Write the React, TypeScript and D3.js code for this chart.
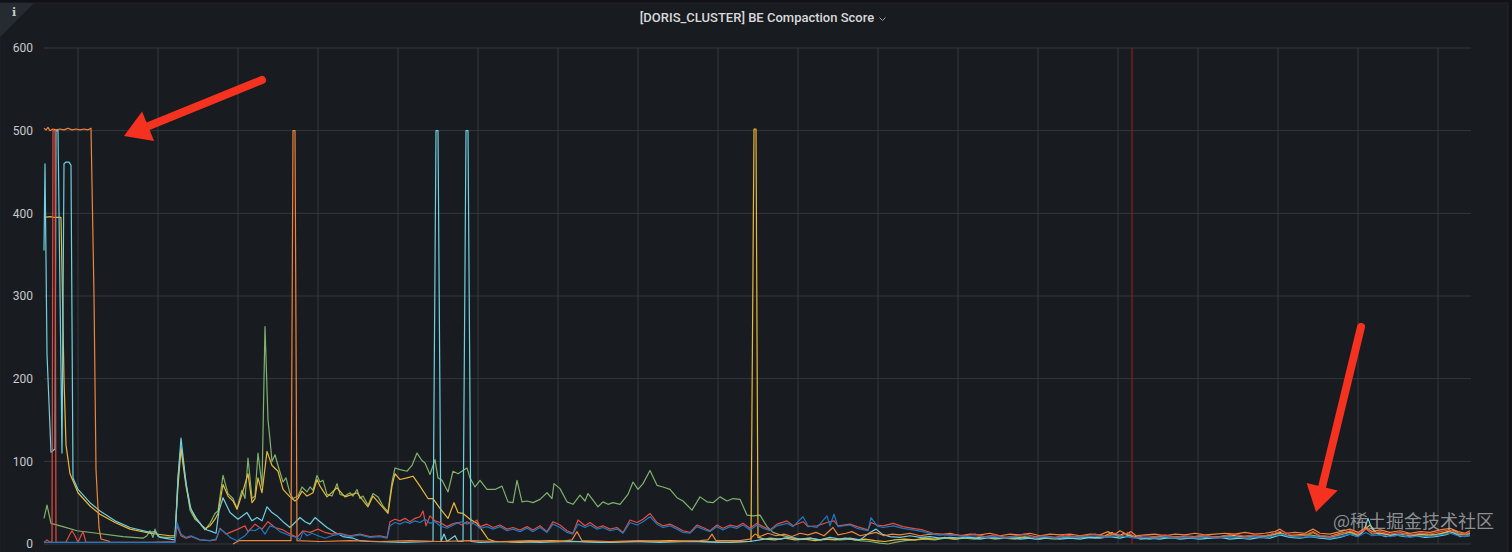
import React from "react";
import * as d3 from "d3";

const W = 1512;
const H = 552;

const TITLE = "[DORIS_CLUSTER] BE Compaction Score";
const WATERMARK = "@稀土掘金技术社区";
const Y_TICKS = [0, 100, 200, 300, 400, 500, 600];

// time axis: samples every 45 s starting at 07:34:30
const START = new Date(2022, 5, 14, 7, 34, 30).getTime();
const STEP_MS = 45000;
const SAMPLE_COUNT = 1427;
const ANNOTATION_SAMPLE = 1088;

const SERIES_NAMES = ["be-01", "be-02", "be-03", "be-04", "be-05", "be-06"];
const SERIES_COLORS = ["#7eb26d", "#eab839", "#6ed0e0", "#ef843c", "#e24d42", "#1f78c1"];

// [sample index, compaction score]
const greenSeries: [number, number | null][] = [
  [0,31],[3,47],[7,25],[19,21],[33,16],[53,13],[79,9],[99,7],[103,10],[106,16],[109,8],[111,18],[114,9],[121,8],[131,8],[134,80],[137,118],[142,75],[146,41],[151,30],[156,25],[161,17],[166,25],[171,37],[174,40],[179,83],[184,61],[189,55],[193,43],[198,65],[201,55],[204,104],[208,55],[211,58],[214,110],[218,70],[221,263],[224,150],[226,126],[228,100],[231,108],[234,95],[239,75],[242,80],[246,61],[249,55],[254,58],[258,69],[263,63],[266,69],[269,65],[273,83],[276,75],[279,77],[283,60],[288,58],[293,73],[296,60],[301,58],[306,62],[309,58],[313,66],[316,55],[319,58],[324,47],[329,61],[334,57],[339,46],[344,39],[348,75],[351,92],[356,90],[363,88],[368,95],[373,110],[378,101],[381,98],[386,84],[391,102],[394,80],[398,77],[404,63],[409,88],[414,85],[419,89],[423,92],[426,80],[431,69],[436,77],[443,66],[451,66],[458,70],[464,51],[469,50],[473,77],[478,51],[483,52],[489,50],[496,54],[503,62],[508,55],[510,73],[516,67],[523,51],[529,48],[536,59],[541,52],[544,61],[549,53],[554,45],[559,51],[564,48],[569,50],[576,48],[584,60],[589,75],[594,66],[599,73],[606,89],[613,71],[619,69],[626,66],[633,56],[639,52],[648,41],[656,57],[663,51],[669,50],[676,57],[683,52],[689,55],[696,54],[703,35],[709,34],[716,35],[723,21],[729,14],[736,11],[746,8],[756,6],[766,7],[776,5],[786,6],[796,5],[806,6],[816,4],[826,3],[836,1],[844,0],[851,2],[861,4],[871,5],[881,6],[891,5],[901,7],[911,6],[921,7],[931,6],[941,8],[951,6],[961,7],[971,6],[981,8],[991,6],[1001,7],[1011,6],[1021,8],[1031,7],[1041,8],[1051,7],[1061,9],[1071,12],[1078,8],[1086,11],[1096,7],[1106,6],[1116,8],[1126,7],[1136,8],[1146,7],[1156,9],[1166,7],[1176,8],[1186,9],[1196,8],[1206,9],[1216,8],[1226,10],[1236,13],[1246,9],[1256,10],[1266,11],[1276,9],[1286,8],[1296,11],[1306,14],[1314,10],[1322,19],[1328,12],[1336,13],[1346,11],[1356,12],[1366,10],[1376,11],[1386,10],[1396,12],[1406,15],[1416,11],[1426,12]
];

const yellowSeries: [number, number | null][] = [
  [0,395],[6,396],[11,395],[17,395],[20,200],[22,120],[26,85],[34,62],[46,46],[56,36],[71,26],[86,18],[106,13],[126,10],[131,10],[134,70],[137,115],[142,70],[146,45],[151,32],[156,25],[161,18],[166,22],[171,30],[174,37],[179,72],[184,58],[189,52],[193,42],[198,60],[204,85],[208,50],[211,55],[214,80],[218,62],[223,112],[228,95],[234,88],[239,66],[246,57],[251,52],[254,55],[258,64],[263,58],[269,62],[273,78],[276,70],[283,57],[293,68],[301,57],[313,62],[324,45],[329,58],[339,44],[344,37],[348,70],[351,85],[356,78],[363,80],[369,82],[376,70],[384,55],[389,55],[396,43],[404,31],[410,50],[414,38],[419,37],[426,30],[433,25],[439,15],[444,6],[451,3],[476,2],[506,4],[536,3],[566,2],[596,3],[626,4],[656,3],[686,2],[704,3],[707,3],[710,502],[712,502],[714,8],[721,6],[731,5],[741,7],[751,5],[761,6],[771,4],[781,6],[791,5],[801,7],[811,5],[821,6],[831,4],[841,3],[851,5],[861,6],[871,5],[881,7],[891,6],[901,8],[911,6],[921,8],[931,7],[941,9],[951,7],[961,8],[971,7],[981,9],[991,7],[1001,8],[1011,7],[1021,9],[1031,8],[1041,9],[1051,8],[1061,10],[1068,14],[1074,9],[1080,13],[1086,10],[1096,8],[1106,7],[1116,9],[1126,8],[1136,9],[1146,8],[1156,10],[1166,8],[1176,9],[1186,11],[1196,9],[1206,10],[1216,9],[1226,11],[1236,14],[1244,10],[1254,11],[1264,12],[1269,14],[1276,10],[1286,9],[1296,13],[1306,15],[1314,11],[1320,17],[1326,23],[1332,14],[1341,12],[1351,10],[1361,13],[1371,11],[1381,12],[1391,11],[1401,14],[1409,17],[1416,12],[1426,13]
];

const cyanSeries: [number, number | null][] = [
  [0,355],[1,460],[3,230],[7,111],[11,115],[12,500],[14,500],[18,110],[20,460],[22,462],[25,462],[27,458],[29,80],[34,66],[46,50],[56,40],[71,28],[86,20],[106,14],[111,15],[116,8],[126,6],[131,5],[134,80],[137,128],[142,73],[147,42],[153,30],[158,22],[163,17],[168,15],[172,13],[175,40],[179,56],[186,38],[194,30],[203,38],[208,28],[213,32],[218,28],[223,45],[228,38],[233,34],[239,27],[246,20],[256,32],[261,27],[266,24],[271,32],[276,27],[283,20],[291,14],[299,9],[309,7],[316,4],[326,3],[360,2],[389,3],[392,500],[394,500],[397,3],[400,12],[403,3],[411,10],[414,3],[419,3],[422,500],[424,500],[427,3],[436,2],[466,3],[496,2],[526,3],[556,2],[586,3],[616,2],[646,3],[676,2],[706,3],[716,5],[726,7],[736,6],[746,8],[756,6],[766,7],[776,5],[786,8],[796,6],[806,7],[816,5],[826,14],[832,18],[838,12],[846,9],[856,8],[866,10],[876,8],[886,9],[896,7],[906,8],[916,7],[926,8],[936,6],[946,8],[956,7],[966,8],[976,6],[986,7],[996,6],[1006,8],[1016,6],[1026,7],[1036,6],[1046,8],[1056,7],[1066,9],[1076,7],[1086,10],[1096,6],[1106,7],[1116,6],[1126,8],[1136,6],[1146,7],[1156,6],[1166,7],[1176,8],[1186,6],[1196,7],[1206,6],[1216,8],[1226,7],[1236,11],[1246,8],[1256,7],[1266,9],[1276,7],[1286,6],[1296,8],[1306,12],[1314,9],[1320,16],[1324,31],[1328,18],[1334,12],[1342,9],[1351,11],[1361,9],[1371,10],[1381,8],[1391,9],[1401,11],[1409,14],[1416,9],[1426,10]
];

const orangeSeries: [number, number | null][] = [
  [0,503],[2,501],[4,504],[6,500],[9,502],[12,501],[16,502],[20,501],[24,503],[28,501],[32,502],[36,501],[40,502],[44,501],[47,503],[50,300],[52,90],[55,20],[57,6],[66,3],[70,null],[188,null],[189,0],[195,4],[247,4],[249,500],[251,500],[253,4],[276,3],[306,4],[336,3],[366,4],[396,3],[426,4],[456,3],[486,4],[516,3],[528,5],[533,15],[538,4],[566,3],[596,4],[626,3],[656,4],[664,5],[668,12],[672,4],[696,4],[706,6],[711,12],[716,9],[724,13],[732,10],[740,12],[748,9],[756,13],[764,11],[772,14],[780,10],[789,20],[794,11],[802,13],[808,15],[816,10],[824,12],[832,14],[840,10],[848,12],[856,11],[866,13],[876,10],[886,12],[896,11],[906,13],[916,10],[926,12],[936,11],[946,13],[956,10],[966,12],[976,11],[986,13],[996,10],[1006,12],[1016,11],[1026,12],[1036,10],[1046,12],[1056,11],[1064,15],[1070,11],[1076,16],[1082,12],[1087,15],[1092,10],[1101,11],[1111,12],[1121,10],[1131,12],[1141,11],[1151,13],[1161,11],[1171,12],[1181,13],[1191,12],[1201,14],[1211,12],[1221,13],[1231,15],[1236,18],[1242,13],[1251,14],[1261,13],[1269,18],[1276,13],[1286,12],[1296,15],[1306,18],[1314,14],[1322,20],[1328,15],[1336,17],[1346,14],[1356,16],[1366,13],[1376,15],[1386,14],[1396,17],[1406,19],[1414,15],[1421,13],[1426,16]
];

const redSeries: [number, number | null][] = [
  [0,2],[3,5],[6,2],[8,3],[9,500],[11,500],[12,2],[16,2],[22,2],[26,12],[28,16],[31,10],[34,2],[37,10],[39,15],[42,2],[51,2],[76,2],[106,2],[131,3],[133,22],[137,10],[142,7],[147,9],[156,5],[166,4],[172,5],[176,19],[182,12],[188,15],[194,18],[201,22],[204,15],[211,24],[218,18],[224,27],[231,20],[239,17],[246,12],[253,8],[259,16],[266,14],[274,18],[281,14],[288,12],[296,13],[306,10],[316,12],[326,9],[336,10],[343,8],[346,27],[351,30],[356,28],[361,31],[366,27],[371,31],[376,33],[379,40],[382,22],[386,34],[391,28],[396,26],[403,21],[408,24],[413,26],[418,23],[423,27],[428,24],[433,29],[436,21],[443,24],[449,20],[456,23],[463,18],[469,20],[476,17],[483,21],[489,17],[496,22],[503,15],[509,27],[516,23],[523,16],[529,13],[534,29],[541,22],[546,26],[553,20],[559,22],[566,18],[573,20],[579,14],[586,29],[593,26],[599,30],[606,37],[613,26],[619,22],[626,24],[633,20],[639,16],[646,14],[653,23],[659,20],[666,16],[673,23],[679,19],[686,23],[693,21],[699,25],[706,19],[713,25],[719,21],[726,17],[733,24],[743,28],[749,22],[759,27],[764,21],[773,22],[783,26],[790,28],[794,22],[806,24],[813,21],[824,17],[827,26],[833,23],[839,22],[849,25],[859,21],[869,19],[879,17],[889,13],[899,12],[913,11],[921,10],[931,12],[941,9],[951,11],[961,8],[971,10],[981,12],[991,9],[1001,10],[1011,8],[1021,11],[1031,9],[1041,10],[1051,12],[1061,9],[1071,13],[1078,10],[1084,14],[1091,8],[1101,10],[1111,9],[1121,11],[1131,8],[1141,10],[1151,9],[1161,11],[1171,8],[1181,10],[1191,12],[1201,9],[1211,11],[1221,10],[1231,13],[1238,16],[1246,11],[1256,10],[1264,12],[1269,15],[1276,10],[1286,9],[1296,12],[1306,16],[1314,12],[1322,18],[1328,13],[1336,15],[1346,12],[1356,14],[1366,11],[1376,13],[1386,12],[1396,15],[1406,17],[1414,13],[1421,12],[1426,14]
];

const blueSeries: [number, number | null][] = [
  [0,2],[131,2],[133,26],[137,12],[142,8],[147,10],[156,5],[166,4],[172,6],[176,18],[181,14],[186,8],[193,4],[201,10],[206,17],[211,16],[216,20],[221,12],[226,22],[231,20],[236,15],[246,10],[253,8],[256,5],[259,15],[263,10],[268,13],[274,10],[281,7],[288,10],[296,12],[306,9],[316,11],[326,8],[336,9],[343,7],[346,22],[351,26],[356,24],[361,27],[366,25],[371,28],[376,26],[381,30],[386,25],[391,27],[396,22],[403,19],[408,22],[413,25],[418,27],[423,24],[428,26],[433,22],[436,19],[443,21],[449,18],[456,21],[463,16],[469,18],[476,15],[483,19],[489,15],[496,20],[503,14],[509,24],[516,20],[523,14],[529,12],[534,24],[541,20],[546,23],[553,18],[559,20],[566,16],[573,18],[579,13],[586,26],[593,23],[599,27],[606,33],[613,24],[619,20],[626,22],[633,18],[639,14],[646,13],[653,21],[659,18],[666,15],[673,21],[679,17],[686,21],[693,19],[699,23],[706,17],[713,23],[719,19],[726,16],[733,22],[743,25],[749,21],[759,33],[764,22],[773,20],[783,34],[786,22],[790,36],[794,21],[806,23],[813,19],[824,16],[827,32],[833,22],[839,20],[849,22],[859,19],[869,17],[879,15],[889,12],[899,11],[913,10],[921,9],[931,10],[941,8],[951,9],[961,7],[971,9],[981,10],[991,7],[1001,9],[1011,7],[1021,9],[1031,8],[1041,9],[1051,10],[1061,8],[1071,10],[1081,9],[1091,7],[1101,8],[1111,7],[1121,9],[1131,7],[1141,8],[1151,7],[1161,9],[1171,7],[1181,8],[1191,9],[1201,7],[1211,9],[1221,8],[1231,10],[1238,12],[1246,9],[1256,8],[1266,9],[1276,8],[1286,7],[1296,9],[1306,12],[1314,9],[1322,14],[1328,10],[1336,11],[1346,9],[1356,11],[1366,8],[1376,10],[1386,9],[1396,11],[1406,13],[1414,10],[1421,9],[1426,11]
];

const SERIES_DATA = [greenSeries, yellowSeries, cyanSeries, orangeSeries, redSeries, blueSeries];

// arrow head triangle + shaft end point
function arrowParts(tail: [number, number], tip: [number, number], headLen: number, headW: number) {
  const dx = tip[0] - tail[0], dy = tip[1] - tail[1];
  const len = Math.hypot(dx, dy);
  const ux = dx / len, uy = dy / len;
  const px = -uy, py = ux;
  const bx = tip[0] - ux * headLen, by = tip[1] - uy * headLen;
  const h = headW / 2;
  const head = `M${tip[0]},${tip[1]} L${bx + px * h},${by + py * h} L${bx - px * h},${by - py * h} Z`;
  return { head, shaftEnd: [bx + ux * 4, by + uy * 4] as [number, number] };
}

export default function App() {
  const left = 44, right = 1471, top = 48, bottom = 544;
  const tStart = new Date(START);
  const tEnd = new Date(START + SAMPLE_COUNT * STEP_MS);
  const x = d3.scaleTime().domain([tStart, tEnd]).range([left, right]);
  const y = d3.scaleLinear().domain([0, 600]).range([bottom, top]);
  const toDate = (k: number) => new Date(START + k * STEP_MS);
  const line = d3
    .line<[number, number | null]>()
    .defined((d) => d[1] !== null)
    .x((d) => x(toDate(d[0])))
    .y((d) => y(d[1] as number));
  const hourTicks = x.ticks(d3.timeHour.every(1) as any);
  const annX = x(toDate(ANNOTATION_SAMPLE));

  const a1Tail: [number, number] = [262, 80];
  const a2Tail: [number, number] = [1361, 327];
  const a1 = arrowParts(a1Tail, [124, 136], 26, 32);
  const a2 = arrowParts(a2Tail, [1316, 512], 26, 32);
  const arrowColor = "#f4321f";

  return (
    <svg
      width={W}
      height={H}
      style={{ position: "fixed", left: 0, top: 0, display: "block", background: "#111217" }}
      fontFamily="Roboto, Inter, 'Noto Sans', sans-serif"
    >
      <rect x={0} y={3} width={1508} height={H} fill="#181b1f" stroke="#22252b" />
      <path d="M0,3 L34,3 L0,37 Z" fill="#262a31" />
      <text x={12} y={16} fontSize={11} fontWeight={700} fill="#c8cad0" fontFamily="'DejaVu Serif', serif">i</text>

      <text x={757} y={22} textAnchor="middle" fontSize={13} fontWeight={500} fill="#d8d9dc">
        {TITLE}
      </text>
      <path d="M879.5,17.5 L882.5,20.5 L885.5,17.5" fill="none" stroke="#9fa3aa" strokeWidth={1} />

      {Y_TICKS.map((t) => (
        <g key={t}>
          <line x1={left} x2={right} y1={y(t)} y2={y(t)} stroke="#35383e" strokeWidth={1} />
          <text x={33} y={y(t)} dy="0.35em" textAnchor="end" fontSize={12} fill="#c7c9cf">
            {t}
          </text>
        </g>
      ))}
      {hourTicks.map((t, i) => (
        <line key={i} x1={x(t)} x2={x(t)} y1={top} y2={bottom} stroke="#35383e" strokeWidth={1} />
      ))}

      <line x1={annX} x2={annX} y1={top} y2={bottom} stroke="#7a1c1c" strokeWidth={1.5} />

      {SERIES_DATA.map((s, i) => (
        <path key={SERIES_NAMES[i]} d={line(s) || ""} fill="none" stroke={SERIES_COLORS[i]} strokeWidth={1.2} strokeLinejoin="round" />
      ))}

      <line x1={a1Tail[0]} y1={a1Tail[1]} x2={a1.shaftEnd[0]} y2={a1.shaftEnd[1]} stroke={arrowColor} strokeWidth={8} strokeLinecap="round" />
      <path d={a1.head} fill={arrowColor} />
      <line x1={a2Tail[0]} y1={a2Tail[1]} x2={a2.shaftEnd[0]} y2={a2.shaftEnd[1]} stroke={arrowColor} strokeWidth={8} strokeLinecap="round" />
      <path d={a2.head} fill={arrowColor} />

      <text x={1333} y={528} fontSize={18} fill="#b4b6ba" fillOpacity={0.75} fontFamily="'Noto Sans CJK SC', 'Noto Sans', sans-serif">
        {WATERMARK}
      </text>
    </svg>
  );
}
